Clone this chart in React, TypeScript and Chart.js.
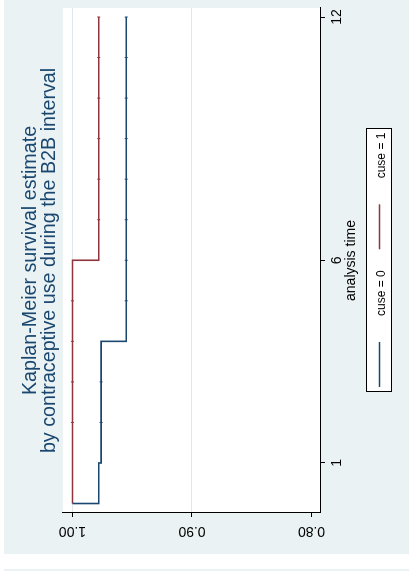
import { useEffect, useRef } from 'react';
import { Chart, registerables } from 'chart.js';

Chart.register(...registerables);

// Kaplan-Meier step values (time in months, survival probability)
const cuse0Time = [0, 0, 1, 4, 12];
const cuse0Surv = [1, 0.978, 0.976, 0.955, 0.955];
const cuse1Time = [0, 6, 12];
const cuse1Surv = [1, 0.978, 0.978];

// censoring times marked on each curve
const cuse0Censored = [2, 3, 5, 6, 7, 8, 9, 10, 11, 12];
const cuse1Censored = [2, 3, 4, 5, 7, 8, 9, 10, 11, 12];

const seriesLabels = ['cuse = 0', 'cuse = 1'];
const seriesColors = ['#1a476f', '#90353b'];

const timeTicks = [1, 6, 12];
const survTicks = [0.8, 0.9, 1.0];
const survTickLabels = ['0.80', '0.90', '1.00'];

const titleLines = [
  'Kaplan-Meier survival estimate',
  'by contraceptive use during the B2B interval',
];
const timeTitle = 'analysis time';

const FONT = '"Liberation Sans", Arial, Helvetica, sans-serif';
const GRAPH_BG = '#eaf2f3';

// survival level of a step curve at time t
function survAt(times: number[], surv: number[], t: number): number {
  let s = surv[0];
  for (let i = 0; i < times.length; i++) {
    if (times[i] <= t) s = surv[i];
  }
  return s;
}

const toPoints = (xs: number[], ys: number[]) => xs.map((x, i) => ({ x, y: ys[i] }));

// graph region background and white plot region
const backdrop = {
  id: 'backdrop',
  beforeDraw(chart: any) {
    const { ctx, width, height, chartArea: a } = chart;
    ctx.save();
    ctx.fillStyle = GRAPH_BG;
    ctx.fillRect(0, 0, width, height);
    ctx.fillStyle = '#ffffff';
    ctx.fillRect(a.left, a.top, a.right - a.left, a.bottom - a.top);
    ctx.restore();
  },
};

// boxed legend below the time axis
const keyBox = {
  id: 'keyBox',
  afterDraw(chart: any) {
    const { ctx, chartArea: a } = chart;
    const items = chart.data.datasets.filter((d: any) => d.showLine);
    ctx.save();
    ctx.font = `12px ${FONT}`;
    const sample = 45;
    const keyGap = 26;
    const colGap = 21;
    const pad = 5;
    const widths = items.map((d: any) => ctx.measureText(d.label).width);
    const total = Math.round(
      pad * 2 +
        items.length * (sample + keyGap) +
        widths.reduce((s: number, w: number) => s + w, 0) +
        colGap * (items.length - 1)
    );
    const left = Math.round((a.left + a.right) / 2 - total / 2);
    const top = Math.round(a.bottom + 46);
    const h = 26;
    ctx.fillStyle = '#ffffff';
    ctx.fillRect(left, top, total, h);
    ctx.strokeStyle = '#000000';
    ctx.lineWidth = 1;
    ctx.strokeRect(left + 0.5, top + 0.5, total - 1, h - 1);
    let cur = left + pad;
    items.forEach((d: any, i: number) => {
      ctx.strokeStyle = d.borderColor;
      ctx.lineWidth = d.borderWidth;
      ctx.beginPath();
      ctx.moveTo(cur, top + 13.5);
      ctx.lineTo(cur + sample, top + 13.5);
      ctx.stroke();
      cur += sample + keyGap;
      ctx.fillStyle = '#000000';
      ctx.textAlign = 'left';
      ctx.textBaseline = 'middle';
      ctx.fillText(d.label, cur, top + 15.8);
      cur += widths[i] + colGap;
    });
    ctx.restore();
  },
};

export default function App() {
  const canvasRef = useRef<HTMLCanvasElement | null>(null);

  useEffect(() => {
    const canvas = canvasRef.current;
    if (!canvas) return;
    Chart.defaults.font.family = FONT;

    const chart = new Chart(canvas, {
      type: 'scatter',
      data: {
        datasets: [
          {
            label: seriesLabels[0],
            data: toPoints(cuse0Time, cuse0Surv),
            showLine: true,
            stepped: 'before',
            borderColor: seriesColors[0],
            backgroundColor: seriesColors[0],
            borderWidth: 1.6,
            pointRadius: 0,
            fill: false,
          },
          {
            label: seriesLabels[1],
            data: toPoints(cuse1Time, cuse1Surv),
            showLine: true,
            stepped: 'before',
            borderColor: seriesColors[1],
            backgroundColor: seriesColors[1],
            borderWidth: 1.6,
            pointRadius: 0,
            fill: false,
          },
          {
            label: 'censored 0',
            data: cuse0Censored.map((t) => ({ x: t, y: survAt(cuse0Time, cuse0Surv, t) })),
            showLine: false,
            pointStyle: 'line',
            rotation: 90,
            pointRadius: 1.5,
            borderColor: seriesColors[0],
            borderWidth: 1,
          },
          {
            label: 'censored 1',
            data: cuse1Censored.map((t) => ({ x: t, y: survAt(cuse1Time, cuse1Surv, t) })),
            showLine: false,
            pointStyle: 'line',
            rotation: 90,
            pointRadius: 1.5,
            borderColor: seriesColors[1],
            borderWidth: 1,
          },
        ],
      },
      options: {
        responsive: false,
        animation: false,
        events: [],
        layout: { padding: { top: 0, left: 0, right: 8, bottom: 0 } },
        scales: {
          x: {
            type: 'linear',
            min: -0.234,
            max: 12.222,
            afterBuildTicks: (s: any) => {
              s.ticks = timeTicks.map((v) => ({ value: v }));
            },
            afterFit: (s: any) => {
              s.height = 89;
            },
            ticks: {
              padding: 4.7,
              color: '#000000',
              font: { size: 14, lineHeight: 1 },
              maxRotation: 0,
              autoSkip: false,
            },
            grid: { drawOnChartArea: false, tickColor: '#000000', tickLength: 5 },
            border: { color: '#000000', width: 1 },
            title: {
              display: true,
              text: timeTitle,
              color: '#000000',
              font: { size: 14, lineHeight: 1 },
              padding: { top: 0, bottom: 50.8 },
            },
          },
          y: {
            type: 'linear',
            min: 0.79289,
            max: 1.00795,
            afterBuildTicks: (s: any) => {
              s.ticks = survTicks.map((v) => ({ value: v }));
            },
            afterFit: (s: any) => {
              s.width = 41;
            },
            ticks: {
              minRotation: 90,
              maxRotation: 90,
              crossAlign: 'center',
              padding: 0,
              color: '#000000',
              font: { size: 14, lineHeight: 1 },
              callback: (v: any) => survTickLabels[survTicks.indexOf(Number(v))],
            },
            grid: {
              drawOnChartArea: true,
              color: (c: any) => (c.tick && c.tick.value < 0.85 ? 'rgba(0,0,0,0)' : '#dfe9eb'),
              lineWidth: 1,
              tickColor: '#000000',
              tickLength: 4,
            },
            border: { color: '#000000', width: 1 },
          },
        },
        plugins: {
          legend: { display: false },
          tooltip: { enabled: false },
          title: {
            display: true,
            text: titleLines,
            color: '#1a476f',
            fullSize: false,
            font: { size: 19.7, weight: 'normal', lineHeight: 0.96 },
            padding: { top: 17.6, bottom: 3.5 },
          },
        },
      } as any,
      plugins: [backdrop, keyBox],
    });

    return () => chart.destroy();
  }, []);

  return (
    <div
      style={{
        position: 'absolute',
        left: 0,
        top: 0,
        width: 409,
        height: 571,
        overflow: 'hidden',
        background: '#ffffff',
      }}
    >
      <div
        style={{
          position: 'absolute',
          left: 0,
          top: 0,
          width: 554,
          height: 405,
          transformOrigin: '0 0',
          transform: 'translate(4px, 554px) rotate(-90deg)',
        }}
      >
        <canvas ref={canvasRef} width={554} height={405} style={{ display: 'block' }} />
      </div>
      <div
        style={{
          position: 'absolute',
          left: 4,
          top: 569,
          width: 405,
          height: 2,
          background: GRAPH_BG,
        }}
      />
    </div>
  );
}
